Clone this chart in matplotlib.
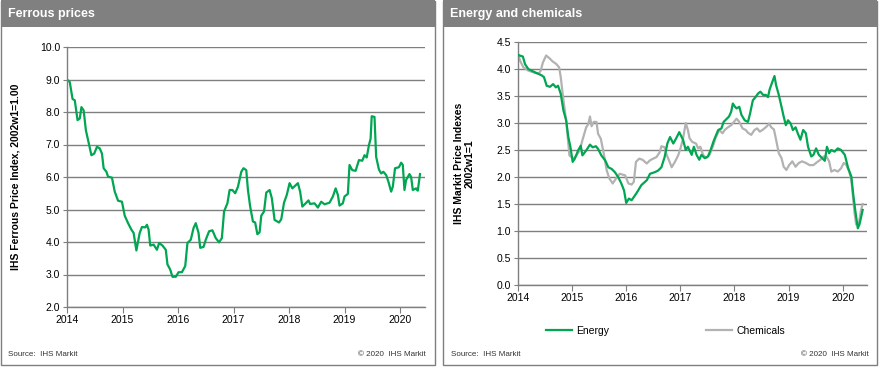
#!/usr/bin/env python3
"""
Two-panel IHS Markit style chart: ferrous prices, energy and chemicals.
"""
import matplotlib
matplotlib.use("Agg")
import matplotlib.pyplot as plt
from matplotlib.patches import Rectangle

plt.rcParams['font.family'] = ['Liberation Sans', 'DejaVu Sans']

# ---- data ----
ferrous_t = [
    2014.00, 2014.05, 2014.10, 2014.14, 2014.19, 2014.23, 2014.26, 2014.30,
    2014.34, 2014.38, 2014.44, 2014.49, 2014.54, 2014.59, 2014.63, 2014.66,
    2014.71, 2014.74, 2014.81, 2014.86, 2014.92, 2014.99, 2015.04, 2015.10,
    2015.16, 2015.20, 2015.25, 2015.31, 2015.35, 2015.41, 2015.44, 2015.47,
    2015.50, 2015.56, 2015.62, 2015.66, 2015.72, 2015.78, 2015.81, 2015.86,
    2015.90, 2015.96, 2016.01, 2016.07, 2016.13, 2016.17, 2016.23, 2016.28,
    2016.32, 2016.37, 2016.40, 2016.46, 2016.50, 2016.56, 2016.62, 2016.68,
    2016.74, 2016.79, 2016.83, 2016.89, 2016.93, 2016.98, 2017.03, 2017.08,
    2017.14, 2017.18, 2017.23, 2017.26, 2017.30, 2017.35, 2017.39, 2017.43,
    2017.47, 2017.50, 2017.55, 2017.59, 2017.65, 2017.69, 2017.74, 2017.82,
    2017.86, 2017.91, 2017.96, 2018.01, 2018.06, 2018.11, 2018.16, 2018.20,
    2018.24, 2018.30, 2018.35, 2018.38, 2018.46, 2018.52, 2018.58, 2018.64,
    2018.73, 2018.79, 2018.84, 2018.88, 2018.91, 2018.97, 2019.00, 2019.06,
    2019.09, 2019.14, 2019.20, 2019.26, 2019.32, 2019.36, 2019.40, 2019.44,
    2019.47, 2019.49, 2019.54, 2019.57, 2019.62, 2019.66, 2019.70, 2019.75,
    2019.79, 2019.84, 2019.87, 2019.91, 2019.98, 2020.02, 2020.05, 2020.08,
    2020.11, 2020.17, 2020.20, 2020.23, 2020.29, 2020.32, 2020.36,
]
ferrous_v = [
    9.00, 8.92, 8.40, 8.36, 7.75, 7.80, 8.15, 8.05,
    7.44, 7.13, 6.67, 6.72, 6.93, 6.88, 6.72, 6.27,
    6.16, 6.01, 5.98, 5.55, 5.27, 5.24, 4.81, 4.58,
    4.38, 4.28, 3.74, 4.28, 4.46, 4.45, 4.53, 4.38,
    3.89, 3.92, 3.76, 3.97, 3.89, 3.76, 3.31, 3.15,
    2.93, 2.93, 3.07, 3.07, 3.26, 3.97, 4.07, 4.43,
    4.58, 4.28, 3.82, 3.85, 4.07, 4.33, 4.36, 4.12,
    3.99, 4.12, 4.94, 5.19, 5.60, 5.60, 5.50, 5.70,
    6.16, 6.27, 6.21, 5.60, 5.09, 4.63, 4.60, 4.24,
    4.30, 4.81, 4.94, 5.52, 5.60, 5.35, 4.68, 4.60,
    4.70, 5.21, 5.45, 5.81, 5.65, 5.73, 5.81, 5.55,
    5.09, 5.19, 5.28, 5.17, 5.19, 5.06, 5.24, 5.16,
    5.21, 5.40, 5.65, 5.45, 5.12, 5.19, 5.40, 5.48,
    6.37, 6.21, 6.19, 6.52, 6.50, 6.67, 6.60, 6.98,
    7.18, 7.87, 7.85, 6.62, 6.23, 6.11, 6.16, 6.06,
    5.86, 5.55, 5.70, 6.27, 6.30, 6.44, 6.37, 5.60,
    5.91, 6.09, 6.00, 5.60, 5.65, 5.58, 6.09,
]

energy_t = [
    2014.00, 2014.09, 2014.13, 2014.19, 2014.25, 2014.31, 2014.38, 2014.44,
    2014.48, 2014.53, 2014.59, 2014.65, 2014.70, 2014.74, 2014.79, 2014.84,
    2014.89, 2014.93, 2014.97, 2015.01, 2015.05, 2015.11, 2015.16, 2015.19,
    2015.26, 2015.33, 2015.38, 2015.44, 2015.48, 2015.54, 2015.61, 2015.67,
    2015.73, 2015.79, 2015.85, 2015.91, 2015.96, 2016.00, 2016.05, 2016.10,
    2016.19, 2016.28, 2016.38, 2016.44, 2016.53, 2016.59, 2016.65, 2016.71,
    2016.76, 2016.81, 2016.87, 2016.92, 2016.98, 2017.05, 2017.10, 2017.14,
    2017.21, 2017.25, 2017.30, 2017.35, 2017.39, 2017.45, 2017.51, 2017.56,
    2017.61, 2017.65, 2017.70, 2017.76, 2017.80, 2017.85, 2017.90, 2017.94,
    2017.97, 2018.01, 2018.04, 2018.09, 2018.13, 2018.19, 2018.25, 2018.29,
    2018.34, 2018.39, 2018.44, 2018.48, 2018.53, 2018.58, 2018.62, 2018.65,
    2018.70, 2018.74, 2018.77, 2018.82, 2018.87, 2018.91, 2018.95, 2018.99,
    2019.04, 2019.08, 2019.13, 2019.17, 2019.22, 2019.27, 2019.32, 2019.36,
    2019.42, 2019.46, 2019.51, 2019.56, 2019.62, 2019.67, 2019.71, 2019.75,
    2019.79, 2019.85, 2019.91, 2019.97, 2020.04, 2020.10, 2020.16, 2020.20,
    2020.24, 2020.28, 2020.31, 2020.34, 2020.37,
]
energy_v = [
    4.26, 4.23, 4.09, 4.00, 3.97, 3.94, 3.91, 3.88,
    3.85, 3.69, 3.67, 3.72, 3.66, 3.69, 3.54, 3.23,
    3.05, 2.74, 2.55, 2.28, 2.34, 2.49, 2.58, 2.40,
    2.49, 2.60, 2.55, 2.57, 2.52, 2.40, 2.31, 2.18,
    2.15, 2.09, 2.00, 1.88, 1.75, 1.52, 1.60, 1.57,
    1.70, 1.85, 1.94, 2.06, 2.09, 2.12, 2.18, 2.37,
    2.62, 2.74, 2.62, 2.71, 2.83, 2.69, 2.50, 2.56,
    2.41, 2.56, 2.41, 2.32, 2.41, 2.35, 2.38, 2.50,
    2.65, 2.75, 2.87, 2.90, 3.02, 3.07, 3.12, 3.21,
    3.36, 3.30, 3.27, 3.30, 3.15, 3.05, 3.02, 3.18,
    3.42, 3.48, 3.55, 3.58, 3.52, 3.52, 3.48, 3.62,
    3.76, 3.87, 3.70, 3.52, 3.30, 3.12, 2.96, 3.05,
    2.99, 2.87, 2.92, 2.81, 2.69, 2.87, 2.81, 2.56,
    2.38, 2.41, 2.53, 2.41, 2.35, 2.30, 2.56, 2.44,
    2.50, 2.47, 2.53, 2.50, 2.41, 2.17, 2.01, 1.64,
    1.33, 1.05, 1.12, 1.25, 1.39,
]

chem_t = [
    2014.00, 2014.04, 2014.10, 2014.19, 2014.28, 2014.38, 2014.42, 2014.46,
    2014.52, 2014.58, 2014.64, 2014.71, 2014.76, 2014.79, 2014.84, 2014.89,
    2014.93, 2014.95, 2014.99, 2015.03, 2015.08, 2015.14, 2015.19, 2015.26,
    2015.30, 2015.33, 2015.36, 2015.40, 2015.45, 2015.48, 2015.53, 2015.58,
    2015.64, 2015.69, 2015.75, 2015.81, 2015.88, 2015.98, 2016.04, 2016.10,
    2016.14, 2016.18, 2016.24, 2016.30, 2016.38, 2016.44, 2016.50, 2016.56,
    2016.62, 2016.65, 2016.71, 2016.74, 2016.79, 2016.84, 2016.90, 2016.96,
    2017.00, 2017.05, 2017.10, 2017.14, 2017.17, 2017.22, 2017.29, 2017.33,
    2017.37, 2017.42, 2017.48, 2017.54, 2017.61, 2017.65, 2017.72, 2017.78,
    2017.82, 2017.88, 2017.94, 2017.99, 2018.04, 2018.09, 2018.15, 2018.21,
    2018.25, 2018.31, 2018.37, 2018.42, 2018.47, 2018.53, 2018.60, 2018.64,
    2018.68, 2018.73, 2018.77, 2018.82, 2018.87, 2018.91, 2018.96, 2019.01,
    2019.07, 2019.13, 2019.19, 2019.25, 2019.32, 2019.39, 2019.46, 2019.52,
    2019.59, 2019.65, 2019.70, 2019.75, 2019.79, 2019.85, 2019.91, 2019.97,
    2020.02, 2020.07, 2020.12, 2020.16, 2020.19, 2020.22, 2020.25, 2020.30,
    2020.34, 2020.37,
]
chem_v = [
    4.28, 4.15, 4.03, 3.97, 3.94, 3.91, 3.97, 4.12,
    4.25, 4.20, 4.14, 4.09, 4.03, 3.85, 3.42, 3.05,
    2.62, 2.40, 2.37, 2.34, 2.40, 2.49, 2.68, 2.92,
    2.98, 3.12, 2.94, 3.02, 3.02, 2.80, 2.71, 2.46,
    2.12, 1.97, 1.88, 1.97, 2.06, 2.03, 1.88, 1.86,
    1.91, 2.28, 2.34, 2.32, 2.25, 2.31, 2.34, 2.37,
    2.46, 2.57, 2.55, 2.43, 2.31, 2.18, 2.28, 2.40,
    2.52, 2.71, 3.00, 2.87, 2.72, 2.65, 2.62, 2.53,
    2.56, 2.41, 2.35, 2.41, 2.59, 2.72, 2.87, 2.81,
    2.87, 2.92, 2.96, 3.02, 3.08, 3.02, 2.90, 2.87,
    2.82, 2.78, 2.87, 2.90, 2.84, 2.88, 2.94, 2.99,
    2.92, 2.88, 2.69, 2.44, 2.35, 2.19, 2.13, 2.22,
    2.29, 2.19, 2.26, 2.29, 2.26, 2.22, 2.22, 2.27,
    2.32, 2.38, 2.38, 2.29, 2.10, 2.13, 2.10, 2.16,
    2.26, 2.22, 2.10, 1.95, 1.64, 1.33, 1.12, 1.15,
    1.39, 1.50,
]

years = [2014, 2015, 2016, 2017, 2018, 2019, 2020]
ferrous_ticks = [2.0, 3.0, 4.0, 5.0, 6.0, 7.0, 8.0, 9.0, 10.0]
energy_ticks = [0.0, 0.5, 1.0, 1.5, 2.0, 2.5, 3.0, 3.5, 4.0, 4.5]

GREEN = '#00a651'
GREY = '#b2b2b2'
FRAME = '#7f7f7f'
W, H = 880, 369

fig = plt.figure(figsize=(W / 100, H / 100), dpi=100)

# background layer in pixel coordinates
bg = fig.add_axes([0, 0, 1, 1])
bg.set_xlim(0, W)
bg.set_ylim(H, 0)
bg.axis('off')


def panel(x0, x1, title, copyright_x):
    bg.add_patch(Rectangle((x0, 0.5), x1 - x0, 364.5, fill=False,
                           edgecolor=FRAME, lw=1))
    bg.add_patch(Rectangle((x0, 0), x1 - x0, 27, color='#808080', lw=0))
    bg.text(x0 + 7, 14, title, color='white', fontsize=9,
            fontweight='bold', va='center', ha='left')
    bg.text(x0 + 8, 354, 'Source:  IHS Markit', fontsize=5.8,
            color='#333333', va='center')
    bg.text(copyright_x, 354, '\u00a9 2020  IHS Markit', fontsize=5.8,
            color='#333333', va='center', ha='right')


panel(0.5, 434.5, 'Ferrous prices', 426)
panel(443, 877, 'Energy and chemicals', 869)


def px_axes(x0, x1, ytop, ybot):
    return fig.add_axes([x0 / W, (H - ybot) / H, (x1 - x0) / W,
                         (ybot - ytop) / H])


def style(ax, yticks, fmt):
    ax.set_facecolor('none')
    for side in ['top', 'right']:
        ax.spines[side].set_visible(False)
    for side in ['left', 'bottom']:
        ax.spines[side].set_color(FRAME)
        ax.spines[side].set_linewidth(1)
    ax.set_yticks(yticks)
    ax.set_yticklabels([fmt.format(v) for v in yticks])
    ax.set_xticks(years)
    ax.set_xticklabels([str(y) for y in years])
    ax.grid(axis='y', color=FRAME, lw=1)
    ax.set_axisbelow(True)
    ax.tick_params(axis='y', length=3, color=FRAME, labelsize=7.5,
                   pad=2)
    ax.tick_params(axis='x', length=4, color=FRAME, labelsize=7.5,
                   direction='out', pad=2)


ax1 = px_axes(67, 425, 47, 307)
ax1.plot(ferrous_t, ferrous_v, color=GREEN, lw=1.6)
ax1.set_xlim(2014, 2020.45)
ax1.set_ylim(2.0, 10.0)
style(ax1, ferrous_ticks, '{:.1f}')
ax1.set_ylabel('IHS Ferrous Price Index, 2002w1=1.00', fontsize=7.5,
               fontweight='bold', labelpad=14)

ax2 = px_axes(518, 867, 42, 285)
ax2.plot(energy_t, energy_v, color=GREEN, lw=1.6, label='Energy', zorder=3)
ax2.plot(chem_t, chem_v, color=GREY, lw=1.6, label='Chemicals', zorder=2)
ax2.set_xlim(2014, 2020.45)
ax2.set_ylim(0.0, 4.5)
style(ax2, energy_ticks, '{:.1f}')
ax2.set_ylabel('IHS Markit Price Indexes\n2002w1=1', fontsize=7.5,
               fontweight='bold', labelpad=16, linespacing=1.0)

handles, labels = ax2.get_legend_handles_labels()
fig.legend([handles[0]], [labels[0]], loc='center left',
           bbox_to_anchor=(537 / W, (H - 331) / H), frameon=False,
           fontsize=7.5, handlelength=2.5, handletextpad=0.35)
fig.legend([handles[1]], [labels[1]], loc='center left',
           bbox_to_anchor=(697 / W, (H - 331) / H), frameon=False,
           fontsize=7.5, handlelength=2.5, handletextpad=0.35)

plt.savefig('out.png', dpi=100)
